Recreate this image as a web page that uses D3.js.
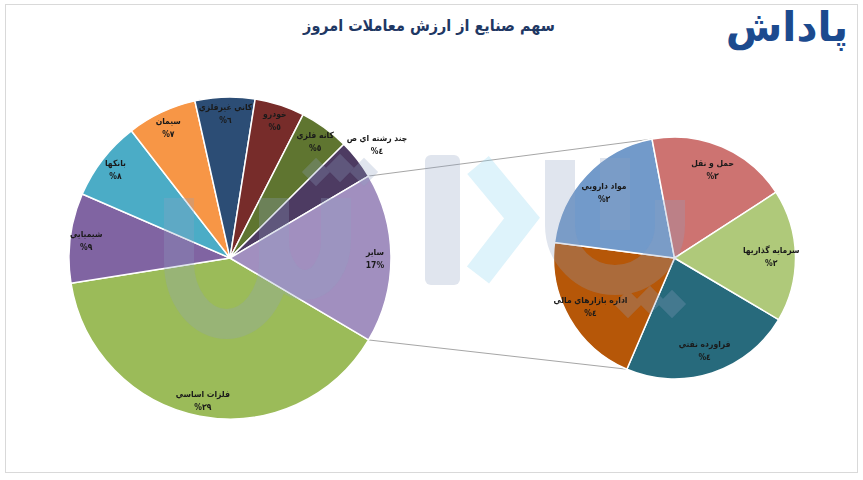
<!DOCTYPE html>
<html><head><meta charset="utf-8">
<script src="https://cdn.jsdelivr.net/npm/d3@7/dist/d3.min.js"></script>
<style>html,body{margin:0;padding:0;background:#fff;}svg{display:block;}</style>
</head><body>
<script>
// ---- data ----
const title = "سهم صنایع از ارزش معاملات امروز";
const logoText = "پاداش";
const leftCategories = ["فلزات اساسي","شيميايي","بانكها","سيمان","كاني غيرفلزي","خودرو","كانه فلزي","چند رشته اي ص"];
const leftValues = [39, 9, 8, 7, 6, 5, 5, 4];
const leftColors = ["#9BBB59","#8064A2","#4BACC6","#F79646","#2C4D75","#772C2A","#5F7530","#4D3B62"];
const otherCategory = "سایر";
const otherColor = "#A18FBF";
const rightCategories = ["فراورده نفتي","اداره بازارهاي مالي","مواد دارويي","حمل و نقل","سرمايه گذاريها"];
const rightValues = [3.9, 3.5, 3.4, 3.2, 3.0];
const rightColors = ["#276A7C","#B65708","#729ACA","#CD7371","#AFC97A"];

// ---- layout ----
const W = 863, H = 480;
const svg = d3.select("body").append("svg").attr("width", W).attr("height", H);
const FONT = "'DejaVu Sans Condensed', 'DejaVu Sans', sans-serif";

svg.append("rect").attr("x", 5.5).attr("y", 4.5).attr("width", 852).attr("height", 468)
  .attr("fill", "#fff").attr("stroke", "#d9d9d9").attr("stroke-width", 1);

svg.append("text").attr("x", 429).attr("y", 31).attr("text-anchor", "middle")
  .attr("font-family", FONT).attr("font-weight", "bold").attr("font-size", 16)
  .attr("fill", "#1F3864").attr("direction", "rtl").text(title);

svg.append("text").attr("x", 787).attr("y", 41).attr("text-anchor", "middle")
  .attr("font-family", "'DejaVu Sans', sans-serif").attr("font-weight", "bold").attr("font-size", 41)
  .attr("fill", "#1C4A8E").attr("direction", "rtl").text(logoText);

const otherValue = d3.sum(rightValues);
const total = d3.sum(leftValues) + otherValue;
const toArabicDigits = s => String(s).replace(/[0-9]/g, d => "٠١٢٣٤٥٦٧٨٩"[+d]);
const pctLabel = v => "%" + toArabicDigits(Math.round(v / total * 100));

const otherSpan = otherValue / total * 2 * Math.PI;
const leftStart = Math.PI / 2 + otherSpan / 2;

const L = {cx: 230, cy: 258, r: 161};
const R = {cx: 674.5, cy: 258, r: 121};

const leftData = leftCategories.map((c, i) => ({name: c, value: leftValues[i], color: leftColors[i], pct: pctLabel(leftValues[i])}));
leftData.push({name: otherCategory, value: otherValue, color: otherColor, pct: Math.round(otherValue / total * 100) + "%", other: true});
const rightData = rightCategories.map((c, i) => ({name: c, value: rightValues[i], color: rightColors[i], pct: pctLabel(rightValues[i])}));

const pieL = d3.pie().sort(null).value(d => d.value).startAngle(leftStart).endAngle(leftStart + 2 * Math.PI);
const arcsL = pieL(leftData);
const pieR = d3.pie().sort(null).value(d => d.value).startAngle(leftStart).endAngle(leftStart + 2 * Math.PI);
const arcsR = pieR(rightData);

const pt = (c, a, rr) => [c.cx + rr * Math.sin(a), c.cy - rr * Math.cos(a)];

// connector lines
const otherArc = arcsL.find(a => a.data.other);
const bounds = arcsR.map(a => a.startAngle);
const norm = a => ((a % (2 * Math.PI)) + 2 * Math.PI) % (2 * Math.PI);
const angDist = (a, b) => { const d = Math.abs(norm(a) - norm(b)); return Math.min(d, 2 * Math.PI - d); };
const topB = bounds.reduce((b, a) => angDist(a, 0) < angDist(b, 0) ? a : b);
const botB = bounds.reduce((b, a) => angDist(a, Math.PI) < angDist(b, Math.PI) ? a : b);
const conn = [[pt(L, otherArc.startAngle, L.r), pt(R, topB, R.r)], [pt(L, otherArc.endAngle, L.r), pt(R, botB, R.r)]];
svg.selectAll("line.conn").data(conn).join("line").attr("class", "conn")
  .attr("x1", d => d[0][0]).attr("y1", d => d[0][1]).attr("x2", d => d[1][0]).attr("y2", d => d[1][1])
  .attr("stroke", "#a6a6a6").attr("stroke-width", 1);

function drawPie(arcs, c) {
  const g = svg.append("g").attr("transform", `translate(${c.cx},${c.cy})`);
  const arc = d3.arc().innerRadius(0).outerRadius(c.r);
  g.selectAll("path").data(arcs).join("path").attr("d", arc)
    .attr("fill", d => d.data.color).attr("stroke", "#fff").attr("stroke-width", 1.5).attr("stroke-linejoin", "round");
  return g;
}
drawPie(arcsL, L);
drawPie(arcsR, R);

// watermark
const wm = svg.append("g").attr("opacity", 0.28).attr("fill", "none").attr("stroke-linecap", "butt");
wm.append("path").attr("d", "M179,198 V262 A47.5,62 0 0 0 274,262 V198 M274,240 A31,45 0 0 0 336,240 V198")
  .attr("stroke", "#8FA0C0").attr("stroke-width", 30);
[[316,172],[340,168],[364,172],[628,304],[650,300],[672,304]].forEach(p => {
  wm.append("rect").attr("x", p[0] - 10).attr("y", p[1] - 10).attr("width", 20).attr("height", 20)
    .attr("transform", `rotate(45 ${p[0]} ${p[1]})`).attr("fill", "#8FA0C0");
});
wm.append("rect").attr("x", 425).attr("y", 155).attr("width", 35).attr("height", 130).attr("rx", 6).attr("fill", "#8FA0C0");
wm.append("path").attr("d", "M478,165 L522,218 L478,275").attr("stroke", "#8AD3EF").attr("stroke-width", 28).attr("stroke-linejoin", "miter");
wm.append("path").attr("d", "M560,160 V225 A55,55 0 0 0 670,225 V200 M615,158 V230")
  .attr("stroke", "#8FA0C0").attr("stroke-width", 30);

function drawLabels(arcs, c, factor) {
  const g = svg.append("g").attr("font-family", FONT).attr("font-size", 8.5).attr("font-weight", "bold")
    .attr("fill", "#1a1a1a").attr("text-anchor", "middle");
  arcs.forEach(a => {
    const mid = (a.startAngle + a.endAngle) / 2;
    const outside = a.data.value / total < 0.045 && c === L;
    const rr = outside ? c.r + 25 : c.r * factor;
    const [x, y] = pt(c, mid, rr);
    g.append("text").attr("x", x).attr("y", y - 3).attr("direction", "rtl").text(a.data.name);
    g.append("text").attr("x", x).attr("y", y + 10).attr("direction", "ltr").text(a.data.pct);
  });
}
drawLabels(arcsL, L, 0.9);
drawLabels(arcsR, R, 0.8);
</script>
</body></html>
